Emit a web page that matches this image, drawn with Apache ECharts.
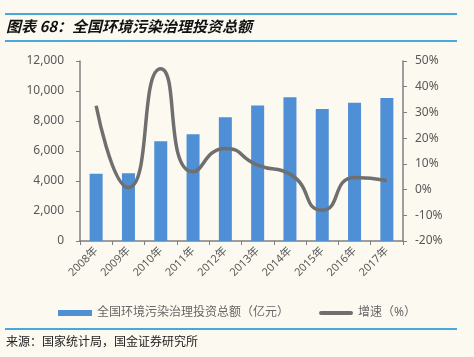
<!DOCTYPE html>
<html><head><meta charset="utf-8">
<script src="https://cdn.jsdelivr.net/npm/echarts@6/dist/echarts.min.js"></script>
<style>html,body{margin:0;padding:0;background:#fcf9f1;}#c{width:474px;height:357px;}</style>
</head><body><div id="c"></div>
<script>
const categories = ['2008年','2009年','2010年','2011年','2012年','2013年','2014年','2015年','2016年','2017年'];
const investment = [4490, 4525, 6654, 7114, 8253, 9037, 9576, 8806, 9220, 9539];
const growth = [32.6, 0.8, 47.0, 6.9, 16.0, 9.5, 6.0, -8.0, 4.7, 3.5];
const leftTicks = [0, 2000, 4000, 6000, 8000, 10000, 12000];
const rightTicks = [-20, -10, 0, 10, 20, 30, 40, 50];

const chart = echarts.init(document.getElementById('c'));
const axisColor = '#7f7f7f';
const labelColor = '#595959';
const font = '"Noto Sans", "Noto Sans CJK SC", sans-serif';
chart.setOption({
  backgroundColor: '#fcf9f1',
  animation: false,
  textStyle: { fontFamily: font },
  grid: { left: 80, right: 71, top: 61, bottom: 116 },
  legend: {
    bottom: 33, left: 'center', itemGap: 30, itemWidth: 34, itemHeight: 6,
    textStyle: { fontSize: 12, color: '#666', fontFamily: font },
    data: [
      { name: '全国环境污染治理投资总额（亿元）', icon: 'rect' },
      { name: '增速（%）', icon: 'path://M2,0 L32,0 A2,2 0 0 1 32,4 L2,4 A2,2 0 0 1 2,0 Z', itemStyle: { color: '#6f6f6f' } }
    ]
  },
  xAxis: {
    type: 'category', data: categories,
    axisLine: { lineStyle: { color: axisColor, width: 1.5 } },
    axisTick: { show: true, alignWithLabel: false, length: 4, lineStyle: { color: axisColor } },
    axisLabel: { rotate: 45, fontSize: 11, color: labelColor, margin: 8 }
  },
  yAxis: [
    {
      type: 'value', min: leftTicks[0], max: leftTicks[leftTicks.length-1], interval: 2000,
      axisLine: { show: true, lineStyle: { color: axisColor, width: 1.5 } },
      axisTick: { show: true, length: 4, lineStyle: { color: axisColor } },
      splitLine: { show: false },
      axisLabel: { fontSize: 12, color: labelColor, margin: 16,
        formatter: v => v.toLocaleString('en-US') }
    },
    {
      type: 'value', min: rightTicks[0], max: rightTicks[rightTicks.length-1], interval: 10,
      position: 'right',
      axisLine: { show: true, lineStyle: { color: axisColor, width: 1.5 } },
      axisTick: { show: true, length: 4, lineStyle: { color: axisColor } },
      splitLine: { show: false },
      axisLabel: { fontSize: 12, color: labelColor, margin: 12, formatter: '{value}%' }
    }
  ],
  series: [
    {
      name: '全国环境污染治理投资总额（亿元）', type: 'bar', data: investment,
      barWidth: 13, itemStyle: { color: '#4f8fd5' }
    },
    {
      name: '增速（%）', type: 'line', yAxisIndex: 1, data: growth,
      smooth: 0.6, symbol: 'none',
      lineStyle: { color: '#6f6f6f', width: 3.5 }, itemStyle: { color: '#6f6f6f' }
    }
  ],
  graphic: [
    { type: 'rect', shape: { x: 5, y: 13, width: 452, height: 2 }, style: { fill: '#4ba6d9' } },
    { type: 'rect', shape: { x: 5, y: 40, width: 452, height: 2 }, style: { fill: '#4ba6d9' } },
    { type: 'text', left: 6, top: 19, style: { text: '图表 68：全国环境污染治理投资总额',
        font: 'italic bold 15px "Noto Sans CJK SC", sans-serif', fill: '#111' } },
    { type: 'rect', shape: { x: 5, y: 328, width: 452, height: 2 }, style: { fill: '#4ba6d9' } },
    { type: 'text', left: 6, top: 335, style: { text: '来源：国家统计局，国金证券研究所',
        font: '12px "Noto Sans CJK SC", sans-serif', fill: '#222' } }
  ]
});
</script></body></html>
